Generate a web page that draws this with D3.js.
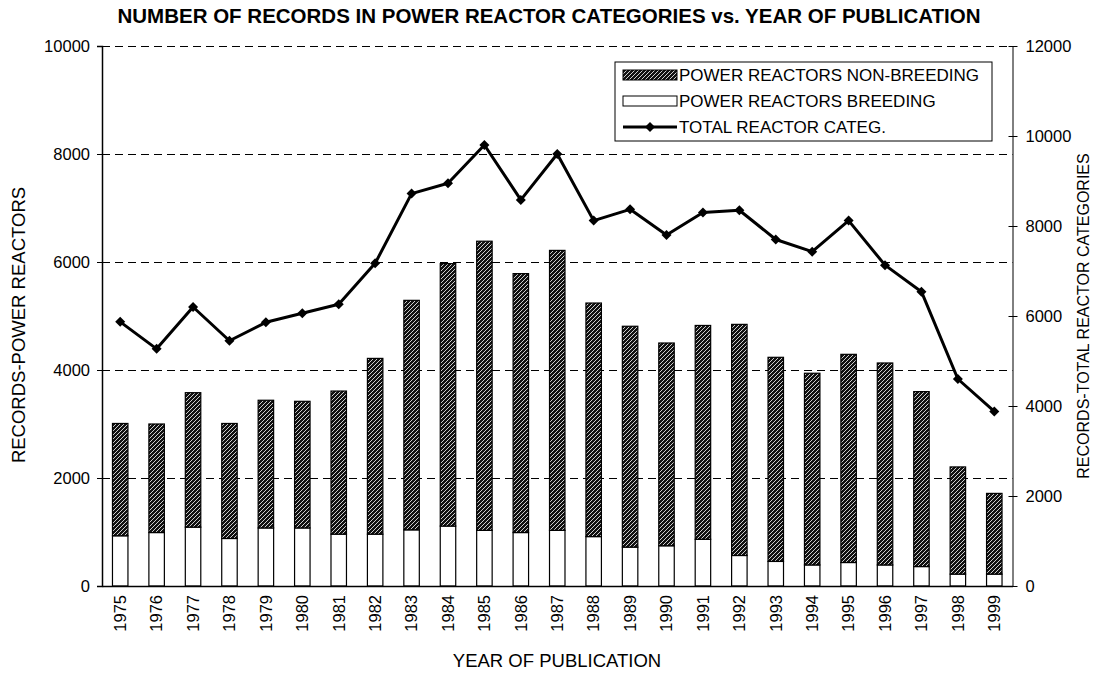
<!DOCTYPE html>
<html>
<head>
<meta charset="utf-8">
<script src="https://cdn.jsdelivr.net/npm/d3@7"></script>
<style>
  body { margin: 0; background: #fff; }
  svg { display: block; font-family: "Liberation Sans", Arial, sans-serif; }
  .axis text { font-size: 16.5px; fill: #000; }
  .axis path, .axis line { stroke: #000; }
</style>
</head>
<body>
<div id="chart"></div>
<script>
/* Power reactor records: stacked bars + total line */

const years = ["1975","1976","1977","1978","1979","1980","1981","1982","1983","1984","1985","1986","1987",
  "1988","1989","1990","1991","1992","1993","1994","1995","1996","1997","1998","1999"];

// bar tops (non-breeding stacked on breeding) - left axis
const breeding = [930, 990, 1090, 880, 1075, 1075, 960, 960, 1040, 1110, 1030, 990, 1030,
  915, 720, 745, 865, 565, 455, 390, 435, 390, 360, 220, 220];
const totalBars = [3010, 3000, 3580, 3010, 3440, 3420, 3610, 4215, 5290, 5970, 6385, 5785, 6215,
  5240, 4810, 4500, 4825, 4845, 4235, 3940, 4290, 4130, 3600, 2205, 1715];

// total reactor categories - right axis
const totalCateg = [5870, 5270, 6200, 5450, 5860, 6060, 6260, 7170, 8720, 8950, 9800, 8580, 9600,
  8120, 8370, 7800, 8300, 8350, 7700, 7430, 8120, 7130, 6540, 4600, 3880];

const leftTicks = [0, 2000, 4000, 6000, 8000, 10000];
const rightTicks = [0, 2000, 4000, 6000, 8000, 10000, 12000];
const legendItems = ["POWER REACTORS NON-BREEDING", "POWER REACTORS BREEDING", "TOTAL REACTOR CATEG."];

const height = 673,
    width = 1098,
    margin = ({top: 46, right: 85.5, bottom: 87, left: 102});

const svg = d3.select("#chart")
    .append("svg")
    .attr("width", width)
    .attr("height", height);

// hatch pattern for non-breeding
const defs = svg.append("defs");
const pat = defs.append("pattern")
    .attr("id", "hatch")
    .attr("patternUnits", "userSpaceOnUse")
    .attr("width", 4)
    .attr("height", 4);
pat.append("rect").attr("width", 4).attr("height", 4).attr("fill", "#111");
pat.append("path")
    .attr("d", "M-1,1 L1,-1 M0,4 L4,0 M3,5 L5,3")
    .attr("stroke", "#fff")
    .attr("stroke-width", 0.8);

let x = d3.scaleBand()
    .domain(years)
    .range([margin.left, width - margin.right])
    .paddingInner(0.575)
    .paddingOuter(0.2875);

let y = d3.scaleLinear()
    .domain([0, 10000])
    .range([height - margin.bottom, margin.top]);

let y2 = d3.scaleLinear()
    .domain([0, 12000])
    .range([height - margin.bottom, margin.top]);

// dashed gridlines
svg.append("g")
  .selectAll("line")
  .data(leftTicks.filter(d => d > 0))
  .join("line")
    .attr("x1", margin.left)
    .attr("x2", width - margin.right)
    .attr("y1", d => Math.round(y(d)) + 0.5)
    .attr("y2", d => Math.round(y(d)) + 0.5)
    .attr("stroke", "#000")
    .attr("stroke-dasharray", "8,5");

// bars: breeding (bottom) and non-breeding (top)
svg.append("g")
  .selectAll("rect")
  .data(years)
  .join("rect")
    .attr("x", d => x(d))
    .attr("width", x.bandwidth())
    .attr("y", (d, i) => y(breeding[i]))
    .attr("height", (d, i) => y(0) - y(breeding[i]))
    .attr("fill", "#fff")
    .attr("stroke", "#000")
    .attr("stroke-width", 1.2);

svg.append("g")
  .selectAll("rect")
  .data(years)
  .join("rect")
    .attr("x", d => x(d))
    .attr("width", x.bandwidth())
    .attr("y", (d, i) => y(totalBars[i]))
    .attr("height", (d, i) => y(breeding[i]) - y(totalBars[i]))
    .attr("fill", "url(#hatch)")
    .attr("stroke", "#000")
    .attr("stroke-width", 1.2);

// left axis
svg.append("g")
  .attr("class", "axis")
  .attr("transform", `translate(${margin.left},0)`)
  .call(d3.axisLeft(y).tickValues(leftTicks).tickSize(5).tickPadding(7).tickFormat(d3.format("d")))
  .call(g => g.select(".domain").attr("stroke-width", 1.5));

// right axis, ticks crossing the line
svg.append("g")
  .attr("class", "axis")
  .attr("transform", `translate(${width - margin.right},0)`)
  .call(d3.axisRight(y2).tickValues(rightTicks).tickSize(5).tickSizeOuter(0).tickPadding(8).tickFormat(d3.format("d")))
  .call(g => g.selectAll(".tick line").attr("x1", -4));

// bottom axis
svg.append("g")
  .attr("class", "axis")
  .attr("transform", `translate(0,${height - margin.bottom})`)
  .call(d3.axisBottom(x).tickSize(0).tickSizeOuter(0).tickPadding(0))
  .call(g => g.select(".domain").attr("stroke-width", 1.5))
  .call(g => g.selectAll(".tick text")
      .attr("transform", "rotate(-90)")
      .attr("text-anchor", "end")
      .attr("x", -9)
      .attr("y", 0)
      .attr("dy", "0.35em"));

// total line
let line = d3.line()
  .x((d, i) => x(years[i]) + x.bandwidth() / 2)
  .y(d => y2(d));

svg.append("path")
    .datum(totalCateg)
    .attr("d", line)
    .attr("fill", "none")
    .attr("stroke", "#000")
    .attr("stroke-width", 3)
    .attr("stroke-linejoin", "round");

const diamond = d3.symbol().type(d3.symbolDiamond2).size(64);
svg.append("g")
  .selectAll("path")
  .data(totalCateg)
  .join("path")
    .attr("transform", (d, i) => `translate(${x(years[i]) + x.bandwidth() / 2},${y2(d)})`)
    .attr("d", diamond)
    .attr("fill", "#000");

// titles
svg.append("text")
  .attr("x", 549)
  .attr("y", 23)
  .attr("text-anchor", "middle")
  .attr("font-weight", "bold")
  .attr("font-size", 20.5)
  .text("NUMBER OF RECORDS IN POWER REACTOR CATEGORIES vs. YEAR OF PUBLICATION");

svg.append("text")
  .attr("x", 557)
  .attr("y", 667)
  .attr("text-anchor", "middle")
  .attr("font-size", 18.5)
  .text("YEAR OF PUBLICATION");

svg.append("text")
  .attr("transform", `translate(25,${(margin.top + height - margin.bottom) / 2 + 9}) rotate(-90)`)
  .attr("text-anchor", "middle")
  .attr("font-size", 18.5)
  .text("RECORDS-POWER REACTORS");

svg.append("text")
  .attr("transform", `translate(1089,${(margin.top + height - margin.bottom) / 2}) rotate(-90)`)
  .attr("text-anchor", "middle")
  .attr("font-size", 16)
  .text("RECORDS-TOTAL REACTOR CATEGORIES");

// legend
const lg = svg.append("g").attr("transform", "translate(615,62)");
lg.append("rect")
  .attr("width", 377).attr("height", 79)
  .attr("fill", "#fff").attr("stroke", "#000");

legendItems.forEach((name, i) => {
  const cy = 13 + i * 26;
  if (i === 0) {
    lg.append("rect").attr("x", 8).attr("y", cy - 5).attr("width", 54).attr("height", 10)
      .attr("fill", "url(#hatch)").attr("stroke", "#000");
  } else if (i === 1) {
    lg.append("rect").attr("x", 8).attr("y", cy - 5).attr("width", 54).attr("height", 10)
      .attr("fill", "#fff").attr("stroke", "#000");
  } else {
    lg.append("line").attr("x1", 8).attr("x2", 62).attr("y1", cy).attr("y2", cy)
      .attr("stroke", "#000").attr("stroke-width", 3);
    lg.append("path").attr("transform", `translate(35,${cy})`).attr("d", diamond).attr("fill", "#000");
  }
  lg.append("text")
    .attr("x", 64)
    .attr("y", cy)
    .attr("dy", "0.35em")
    .attr("font-size", 17)
    .text(name);
});
</script>
</body>
</html>
